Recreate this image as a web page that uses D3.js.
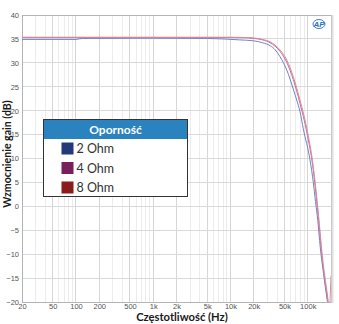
<!DOCTYPE html>
<html><head><meta charset="utf-8">
<script src="https://cdn.jsdelivr.net/npm/d3@7"></script>
<style>
html,body{margin:0;padding:0;background:#fff;}
svg{display:block;}
</style>
</head><body>
<svg id="c" width="339" height="324"></svg>
<script>
// ---- data ----
const seriesNames = ["2 Ohm", "4 Ohm", "8 Ohm"];
const freq2 = [20, 100, 120, 1000, 5000, 8000, 13000, 20000, 26000, 32500, 38000, 43700, 53500, 65000, 72000, 79400, 87600, 107000, 118000, 126000, 135000, 145000, 160000, 178000, 190000, 200000];
const gain2 = [34.9, 34.9, 35.1, 35.15, 35.1, 35.0, 34.8, 34.6, 34.2, 33.6, 32.7, 31.3, 28.5, 24.5, 22.2, 19.8, 16.2, 9.7, 5.0, 1.0, -3.0, -8.5, -14.0, -19.5, -22.5, -22.0];
const freq4 = [20, 1000, 10000, 15000, 20000, 26000, 32500, 43700, 53500, 65000, 79400, 96900, 118000, 130600, 141000, 151600, 181000, 190000, 200000];
const gain4 = [35.3, 35.3, 35.3, 35.25, 35.1, 34.8, 34.2, 32.4, 30.1, 26.5, 21.5, 15.6, 7.5, 1.0, -4.3, -10.0, -19.5, -22.0, -21.0];
const freq8 = [20, 1000, 10000, 15000, 20000, 26000, 32500, 43700, 53500, 65000, 79400, 96900, 118000, 130600, 141000, 151600, 181000, 190000, 200000];
const gain8 = [35.35, 35.35, 35.35, 35.3, 35.2, 34.9, 34.4, 32.7, 30.6, 27.1, 22.2, 16.4, 8.3, 2.0, -3.5, -9.1, -18.9, -21.5, -14.5];
const xTickValues = [20, 50, 100, 200, 500, 1000, 2000, 5000, 10000, 20000, 50000, 100000];
const xTickLabels = ["20", "50", "100", "200", "500", "1k", "2k", "5k", "10k", "20k", "50k", "100k"];
const yTickValues = [-20, -15, -10, -5, 0, 5, 10, 15, 20, 25, 30, 35, 40];
const lineColors = ["#7282c9", "#b8729f", "#dc8a96"];
const swatchColors = ["#233a78", "#7a1f5c", "#8c1c1c"];

// ---- layout ----
const L = 22, R = 331, T = 15, B = 302;
const svg = d3.select("#c");
const x = d3.scaleLog().domain([20, 200000]).range([L, R]);
const y = d3.scaleLinear().domain([-20, 40]).range([B, T]);

// minor vertical grid
const minor = [];
for (let d = 10; d <= 100000; d *= 10) for (let m = 1; m <= 9; m++) { const v = d * m; if (v >= 20 && v <= 200000) minor.push(v); }
svg.append("g").selectAll("line").data(minor).join("line")
  .attr("x1", d => x(d)).attr("x2", d => x(d)).attr("y1", T).attr("y2", B)
  .attr("stroke", d => xTickValues.includes(d) ? "#d6d6d6" : "#ececec").attr("stroke-width", 1)
  .attr("shape-rendering", "crispEdges");
// horizontal grid
svg.append("g").selectAll("line").data(yTickValues).join("line")
  .attr("x1", L).attr("x2", R).attr("y1", d => y(d)).attr("y2", d => y(d))
  .attr("stroke", "#d9d9d9").attr("shape-rendering", "crispEdges");

// frame
svg.append("rect").attr("x", L).attr("y", T).attr("width", R - L).attr("height", B - T)
  .attr("fill", "none").attr("stroke", "#b4b4b4").attr("shape-rendering", "crispEdges");
svg.append("line").attr("x1", R + 1.5).attr("x2", R + 1.5).attr("y1", T).attr("y2", B + 1)
  .attr("stroke", "#e0e0e0").attr("stroke-width", 2);

// axes
const yAxis = d3.axisLeft(y).tickValues(yTickValues).tickSize(0).tickPadding(3).tickFormat(d3.format("d"));
const gy = svg.append("g").attr("transform", `translate(${L},0)`).call(yAxis);
gy.select(".domain").remove();
gy.selectAll("text").attr("font-family", "Liberation Sans, Arial, sans-serif").attr("font-size", 7.5).attr("fill", "#555");

const xAxis = d3.axisBottom(x).tickValues(xTickValues).tickSize(0).tickPadding(2)
  .tickFormat((d, i) => xTickLabels[i]);
const gx = svg.append("g").attr("transform", `translate(0,${B})`).call(xAxis);
gx.select(".domain").remove();
gx.selectAll("text").attr("font-family", "Liberation Sans, Arial, sans-serif").attr("font-size", 7.5).attr("fill", "#555");

// clip
svg.append("clipPath").attr("id", "clip").append("rect").attr("x", L).attr("y", T).attr("width", R - L).attr("height", B - T);

const series = [
  freq2.map((f, i) => [f, gain2[i]]),
  freq4.map((f, i) => [f, gain4[i]]),
  freq8.map((f, i) => [f, gain8[i]])
];
const line = d3.line().x(d => x(d[0])).y(d => y(d[1])).curve(d3.curveMonotoneX);
svg.append("g").attr("clip-path", "url(#clip)").selectAll("path").data(series).join("path")
  .attr("d", line).attr("fill", "none").attr("stroke", (d, i) => lineColors[i]).attr("stroke-width", 1);

// AP logo
const logo = svg.append("g").attr("transform", "translate(319,24)");
logo.append("ellipse").attr("rx", 6).attr("ry", 4.5).attr("fill", "none").attr("stroke", "#3a7fd0").attr("stroke-width", 1);
logo.append("text").attr("text-anchor", "middle").attr("y", 3).attr("font-size", 8).attr("font-style", "italic")
  .attr("font-weight", "bold").attr("font-family", "Liberation Sans, Arial").attr("fill", "#2b6fc4").text("AP");

// axis titles
svg.append("text").attr("x", 182).attr("y", 321).attr("text-anchor", "middle")
  .attr("font-family", "Lato, sans-serif").attr("font-weight", "bold").attr("font-size", 11.2).attr("fill", "#1a1a1a")
  .text("Częstotliwość (Hz)");
svg.append("text").attr("transform", "translate(11,154) rotate(-90)").attr("text-anchor", "middle")
  .attr("font-family", "Lato, sans-serif").attr("font-weight", "bold").attr("font-size", 10.6).attr("fill", "#1a1a1a")
  .text("Wzmocnienie gain (dB)");

// legend
const lg = svg.append("g").attr("transform", "translate(43.5,119.5)");
lg.append("rect").attr("width", 144).attr("height", 77).attr("fill", "#fff").attr("stroke", "#333").attr("stroke-width", 1);
lg.append("rect").attr("x", 0.5).attr("y", 0.5).attr("width", 143).attr("height", 19).attr("fill", "#2a82bf");
lg.append("text").attr("x", 72).attr("y", 14).attr("text-anchor", "middle").attr("fill", "#fff")
  .attr("font-family", "Lato, sans-serif").attr("font-weight", "bold").attr("font-size", 12).text("Oporność");
const items = lg.selectAll("g.it").data(seriesNames).join("g").attr("class", "it")
  .attr("transform", (d, i) => `translate(18,${23 + i * 19.5})`);
items.append("rect").attr("width", 12).attr("height", 12).attr("fill", (d, i) => swatchColors[i]);
items.append("text").attr("x", 15).attr("y", 10.5).attr("font-family", "Lato, sans-serif").attr("font-size", 12.5)
  .attr("fill", "#333").text(d => d);
</script>
</body></html>
